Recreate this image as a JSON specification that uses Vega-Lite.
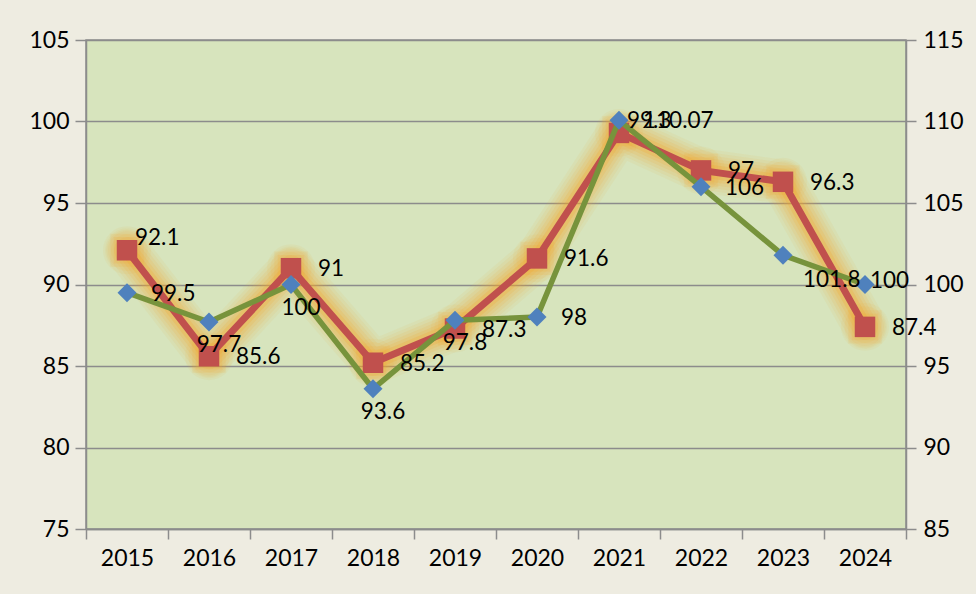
{
  "$schema": "https://vega.github.io/schema/vega-lite/v6.json",
  "width": 820,
  "height": 489,
  "autosize": {"type": "none"},
  "padding": {"left": 86, "top": 40, "right": 70, "bottom": 65},
  "background": "#eeece1",
  "config": {
    "view": {"fill": "#d7e4bd", "stroke": "#8c8c8c", "strokeWidth": 1.5},
    "axis": {
      "labelFont": "Lato",
      "labelFontSize": 23,
      "labelColor": "#000000",
      "domainColor": "#8c8c8c",
      "domainWidth": 1.5,
      "tickColor": "#8c8c8c",
      "tickWidth": 1.5,
      "gridColor": "#8c8c8c",
      "gridWidth": 1.5,
      "title": null
    },
    "text": {"font": "Lato", "fontSize": 22.5, "color": "#000000"}
  },
  "data": {
    "values": [
      {"year": "2015", "red": 92.1, "green": 99.5},
      {"year": "2016", "red": 85.6, "green": 97.7},
      {"year": "2017", "red": 91.0, "green": 100},
      {"year": "2018", "red": 85.2, "green": 93.6},
      {"year": "2019", "red": 87.3, "green": 97.8},
      {"year": "2020", "red": 91.6, "green": 98},
      {"year": "2021", "red": 99.3, "green": 110.07},
      {"year": "2022", "red": 97.0, "green": 106},
      {"year": "2023", "red": 96.3, "green": 101.8},
      {"year": "2024", "red": 87.4, "green": 100}
    ]
  },
  "encoding": {
    "x": {
      "field": "year",
      "type": "ordinal",
      "bandPosition": 0.5,
      "scale": {"type": "band", "paddingInner": 0, "paddingOuter": 0},
      "axis": {
        "orient": "bottom",
        "tickBand": "extent",
        "tickSize": 10,
        "labelPadding": 8,
        "labelAngle": 0,
        "grid": false
      }
    }
  },
  "layer": [
    {
      "encoding": {
        "y": {
          "field": "red",
          "type": "quantitative",
          "scale": {"domain": [75, 105], "nice": false, "zero": false},
          "axis": {
            "orient": "left",
            "values": [75, 80, 85, 90, 95, 100, 105],
            "tickSize": 11,
            "labelPadding": 6,
            "grid": true
          }
        }
      },
      "layer": [
        {"mark": {"type": "line", "color": "#f5a52a", "strokeWidth": 44, "opacity": 0.07, "strokeCap": "round", "strokeJoin": "round"}},
        {"mark": {"type": "line", "color": "#f5a52a", "strokeWidth": 38, "opacity": 0.08, "strokeCap": "round", "strokeJoin": "round"}},
        {"mark": {"type": "line", "color": "#f5a52a", "strokeWidth": 32, "opacity": 0.1, "strokeCap": "round", "strokeJoin": "round"}},
        {"mark": {"type": "line", "color": "#f5a52a", "strokeWidth": 26, "opacity": 0.12, "strokeCap": "round", "strokeJoin": "round"}},
        {"mark": {"type": "line", "color": "#f5a52a", "strokeWidth": 20, "opacity": 0.16, "strokeCap": "round", "strokeJoin": "round"}},
        {"mark": {"type": "line", "color": "#f5a52a", "strokeWidth": 14, "opacity": 0.22, "strokeCap": "round", "strokeJoin": "round"}},
        {"mark": {"type": "point", "shape": "circle", "filled": true, "color": "#f5a52a", "size": 2300, "opacity": 0.07}},
        {"mark": {"type": "point", "shape": "circle", "filled": true, "color": "#f5a52a", "size": 1700, "opacity": 0.09}},
        {"mark": {"type": "point", "shape": "square", "filled": true, "color": "#f5a52a", "size": 1100, "opacity": 0.12}},
        {"mark": {"type": "point", "shape": "square", "filled": true, "color": "#f5a52a", "size": 700, "opacity": 0.16}},
        {"mark": {"type": "line", "color": "#c0504d", "strokeWidth": 7, "strokeJoin": "round"}},
        {"mark": {"type": "point", "shape": "square", "filled": true, "color": "#c0504d", "size": 420, "opacity": 1}}
      ]
    },
    {
      "encoding": {
        "y": {
          "field": "green",
          "type": "quantitative",
          "scale": {"domain": [85, 115], "nice": false, "zero": false},
          "axis": {
            "orient": "right",
            "values": [85, 90, 95, 100, 105, 110, 115],
            "tickSize": 10,
            "labelPadding": 7,
            "grid": false
          }
        }
      },
      "layer": [
        {"mark": {"type": "line", "color": "#77933c", "strokeWidth": 5.5, "strokeJoin": "round"}},
        {"mark": {"type": "point", "shape": "diamond", "filled": true, "color": "#4f81bd", "size": 360, "opacity": 1}}
      ]
    },
    {
      "encoding": {
        "y": {
          "field": "red",
          "type": "quantitative",
          "scale": {"domain": [75, 105], "nice": false, "zero": false},
          "axis": null
        },
        "text": {"field": "red", "type": "quantitative"}
      },
      "layer": [
        {
          "transform": [{"filter": {"not": {"field": "year", "oneOf": ["2015", "2021"]}}}],
          "mark": {"type": "text", "align": "left", "baseline": "middle", "dx": 27, "dy": 1}
        },
        {
          "transform": [{"filter": {"field": "year", "oneOf": ["2015", "2021"]}}],
          "mark": {"type": "text", "align": "left", "baseline": "middle", "dx": 8, "dy": -12}
        }
      ]
    },
    {
      "encoding": {
        "y": {
          "field": "green",
          "type": "quantitative",
          "scale": {"domain": [85, 115], "nice": false, "zero": false},
          "axis": null
        },
        "text": {"field": "green", "type": "quantitative"}
      },
      "layer": [
        {
          "transform": [{"filter": {"field": "year", "oneOf": ["2015", "2020", "2021", "2022"]}}],
          "mark": {"type": "text", "align": "left", "baseline": "middle", "dx": 24, "dy": 1}
        },
        {
          "transform": [{"filter": {"field": "year", "oneOf": ["2024"]}}],
          "mark": {"type": "text", "align": "left", "baseline": "middle", "dx": 5, "dy": -4}
        },
        {
          "transform": [{"filter": {"field": "year", "oneOf": ["2016", "2017", "2018", "2019"]}}],
          "mark": {"type": "text", "align": "center", "baseline": "middle", "dx": 10, "dy": 23}
        },
        {
          "transform": [{"filter": {"field": "year", "oneOf": ["2023"]}}],
          "mark": {"type": "text", "align": "left", "baseline": "middle", "dx": 20, "dy": 25}
        }
      ]
    }
  ],
  "resolve": {"scale": {"y": "independent"}}
}
